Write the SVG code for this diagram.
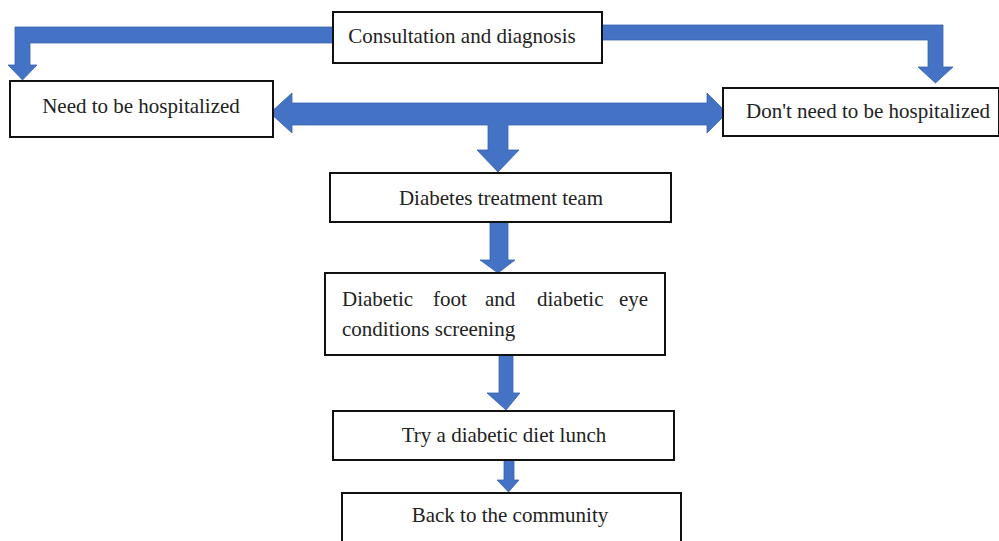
<svg xmlns="http://www.w3.org/2000/svg" width="999" height="541" viewBox="0 0 999 541">
<style>
.box{fill:#fff;stroke:#111;stroke-width:2}
.arr{fill:#4472C4;stroke:#3A63AE;stroke-width:0.8}
.t{font-family:"Liberation Serif","Times New Roman","DejaVu Serif",serif;font-size:21px;fill:#222}
.c{text-anchor:middle}
</style>
<rect width="999" height="541" fill="#fff"/>
<g id="connectors">
<polygon class="arr" points="333,27 15,27 15,65 8,65 22.5,80 37,65 30,65 30,43 333,43"/>
<polygon class="arr" points="602,25 943,25 943,67 953,67 935.5,83 918,67 928,67 928,40 602,40"/>
<polygon class="arr" points="270,113 292,93 292,103 707,103 707,93 727,113 707,133 707,125 508,125 508,150 519,150 498,172 477,150 488,150 488,125 292,125 292,133"/>
<polygon class="arr" points="490,222 508,222 508,260 515,260 498,273 480,260 490,260"/>
<polygon class="arr" points="499,355 513,355 513,393 520,393 506,410 487,393 499,393"/>
<polygon class="arr" points="504,460 514,460 514,480 519,480 508.5,492 497,480 504,480"/>
</g>
<g id="consultation">
<rect class="box" x="333" y="12" width="269" height="51"/>
<text class="t c" x="462" y="43">Consultation and diagnosis</text>
</g>
<g id="need-hospital">
<rect class="box" x="10" y="81" width="263" height="56"/>
<text class="t c" x="141" y="113">Need to be hospitalized</text>
</g>
<g id="no-hospital">
<rect class="box" x="723" y="88" width="276" height="48"/>
<text class="t c" x="868" y="118">Don't need to be hospitalized</text>
</g>
<g id="treatment-team">
<rect class="box" x="330" y="173" width="341" height="49"/>
<text class="t c" x="501" y="205">Diabetes treatment team</text>
</g>
<g id="screening">
<rect class="box" x="325" y="273" width="340" height="82"/>
<text class="t" y="306"><tspan x="342">Diabetic</tspan><tspan x="433">foot</tspan><tspan x="485">and</tspan><tspan x="537">diabetic</tspan><tspan x="619">eye</tspan></text>
<text class="t" x="342" y="336">conditions screening</text>
</g>
<g id="diet-lunch">
<rect class="box" x="333" y="411" width="341" height="49"/>
<text class="t c" x="504" y="442">Try a diabetic diet lunch</text>
</g>
<g id="community">
<rect class="box" x="342" y="493" width="339" height="52"/>
<text class="t c" x="510" y="522">Back to the community</text>
</g>
</svg>
